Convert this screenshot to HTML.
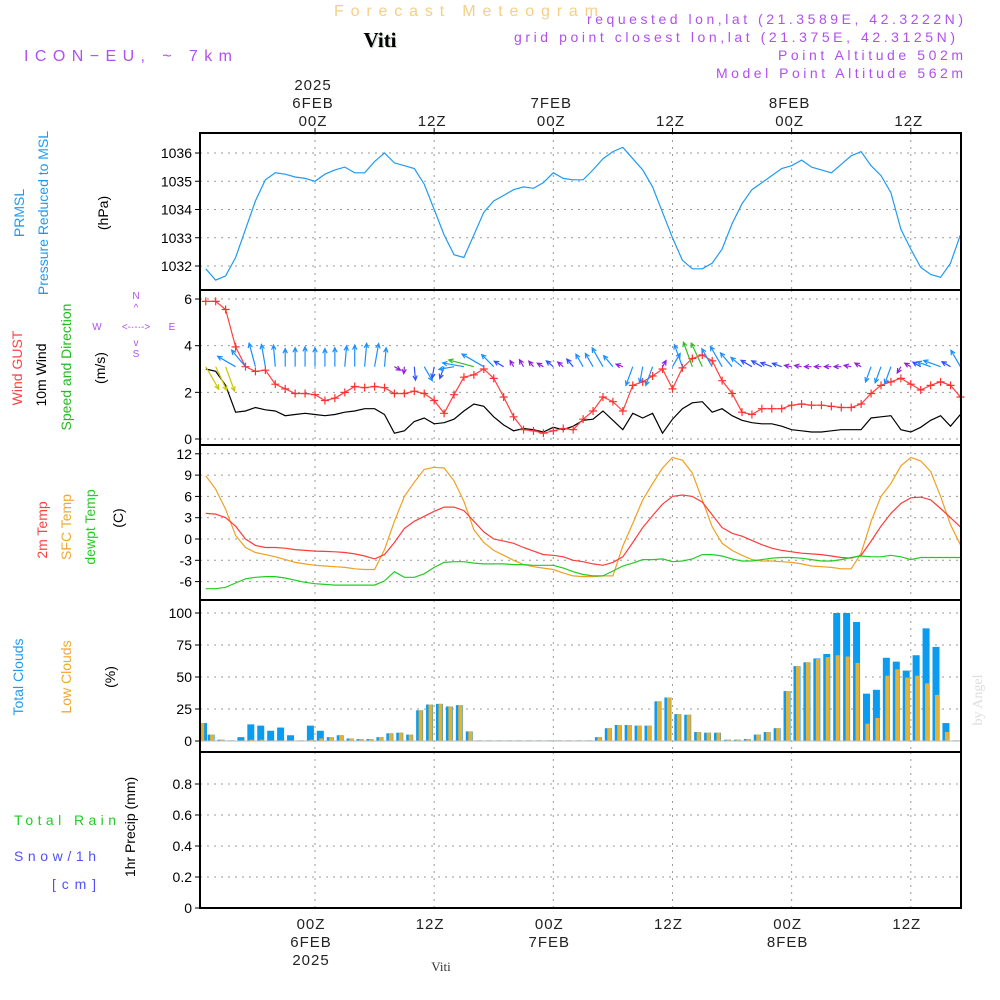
<!DOCTYPE html>
<html><head><meta charset="utf-8"><style>
html,body{margin:0;padding:0;background:#fff;}
svg{display:block;font-family:"Liberation Sans",sans-serif;}
</style></head><body>
<svg id="chart" width="1000" height="1000" viewBox="0 0 1000 1000">
<g>
<text x="334" y="16" textLength="264" lengthAdjust="spacing" font-size="16" fill="#f5cf85">Forecast Meteogram</text>
<text x="381" y="48" text-anchor="middle" font-size="21" font-weight="bold" font-family="Liberation Serif,serif" fill="#c8d8c8">Viti</text>
<text x="380" y="47" text-anchor="middle" font-size="21" font-weight="bold" font-family="Liberation Serif,serif" fill="#000">Viti</text>
<text x="24" y="61" textLength="208" lengthAdjust="spacing" font-size="16" fill="#b050f0">ICON−EU, ~ 7km</text>
<text x="587" y="24" textLength="376" lengthAdjust="spacing" font-size="14" fill="#b050f0">requested lon,lat (21.3589E, 42.3222N)</text>
<text x="514" y="42" textLength="441" lengthAdjust="spacing" font-size="14" fill="#b050f0">grid point closest lon,lat (21.375E, 42.3125N)</text>
<text x="778" y="60" textLength="185" lengthAdjust="spacing" font-size="14" fill="#b050f0">Point Altitude 502m</text>
<text x="716" y="78" textLength="247" lengthAdjust="spacing" font-size="14" fill="#b050f0">Model Point Altitude 562m</text>
</g>
<g id="labels" font-size="14">
<text transform="translate(24,213) rotate(-90)" text-anchor="middle" fill="#1e9bf0">PRMSL</text>
<text transform="translate(48,213) rotate(-90)" text-anchor="middle" fill="#1e9bf0">Pressure Reduced to MSL</text>
<text transform="translate(108,213) rotate(-90)" text-anchor="middle" fill="#000">(hPa)</text>
<text transform="translate(22,368) rotate(-90)" text-anchor="middle" fill="#ff4040">Wind GUST</text>
<text transform="translate(46,375) rotate(-90)" text-anchor="middle" fill="#000">10m Wind</text>
<text transform="translate(71,367) rotate(-90)" text-anchor="middle" fill="#22bb22">Speed and Direction</text>
<text transform="translate(105,368) rotate(-90)" text-anchor="middle" fill="#000">(m/s)</text>
<g font-size="10" fill="#b050f0">
<text x="136" y="299" text-anchor="middle">N</text><text x="136" y="311" text-anchor="middle">^</text>
<text x="136" y="330" text-anchor="middle">&lt;-·-·-&gt;</text>
<text x="97" y="330" text-anchor="middle">W</text><text x="172" y="330" text-anchor="middle">E</text>
<text x="136" y="346" text-anchor="middle">v</text><text x="136" y="357" text-anchor="middle">S</text>
</g>
<text transform="translate(47,530) rotate(-90)" text-anchor="middle" fill="#ff4040">2m Temp</text>
<text transform="translate(71,527) rotate(-90)" text-anchor="middle" fill="#f0a830">SFC Temp</text>
<text transform="translate(95,527) rotate(-90)" text-anchor="middle" fill="#22cc22">dewpt Temp</text>
<text transform="translate(123,518) rotate(-90)" text-anchor="middle" fill="#000">(C)</text>
<text transform="translate(23,677) rotate(-90)" text-anchor="middle" fill="#1e9bf0">Total Clouds</text>
<text transform="translate(71,677) rotate(-90)" text-anchor="middle" fill="#f0a830">Low Clouds</text>
<text transform="translate(115,677) rotate(-90)" text-anchor="middle" fill="#000">(%)</text>
<text x="14" y="825" textLength="102" lengthAdjust="spacing" fill="#22cc22">Total  Rain</text>
<text x="14" y="861" textLength="82" lengthAdjust="spacing" fill="#5050ff">Snow/1h</text>
<text x="52" y="889" textLength="44" lengthAdjust="spacing" fill="#5050ff">[cm]</text>
<text transform="translate(135,827) rotate(-90)" text-anchor="middle" fill="#000">1hr Precip (mm)</text>
<text transform="translate(982,700) rotate(-90)" text-anchor="middle" font-size="14" font-family="Liberation Serif,serif" fill="#dddddd">by Angel</text>
<text x="441" y="971" text-anchor="middle" font-size="13" font-family="Liberation Serif,serif" fill="#333">Viti</text>
</g>
<g id="plot"></g>
</svg>
<script>
const hours=[];for(let h=-11;h<=65;h++)hours.push(h);
const pressure=[1031.9,1031.5,1031.65,1032.3,1033.3,1034.3,1035.05,1035.3,1035.25,1035.15,1035.1,
1035.0,1035.25,1035.4,1035.5,1035.3,1035.3,1035.7,1036.0,1035.65,1035.55,1035.45,1034.9,
1034.0,1033.1,1032.4,1032.3,1033.1,1033.9,1034.3,1034.5,1034.7,1034.8,1034.75,1034.95,
1035.3,1035.1,1035.05,1035.05,1035.4,1035.8,1036.05,1036.2,1035.8,1035.4,1034.8,1033.9,
1033.0,1032.2,1031.9,1031.9,1032.1,1032.6,1033.5,1034.2,1034.7,1034.95,1035.2,1035.45,
1035.55,1035.75,1035.5,1035.4,1035.3,1035.6,1035.9,1036.05,1035.55,1035.2,1034.6,1033.3,
1032.6,1031.95,1031.7,1031.6,1032.1,1033.1];
const gust=[5.9,5.9,5.55,3.95,3.1,2.9,2.95,2.35,2.15,1.95,1.95,
1.9,1.65,1.75,2.0,2.25,2.2,2.25,2.2,1.95,1.95,2.05,1.95,
1.65,1.1,1.9,2.65,2.75,3.0,2.6,1.8,0.95,0.4,0.35,0.25,
0.35,0.45,0.4,0.85,1.2,1.8,1.6,1.2,2.3,2.45,2.7,3.0,
2.15,3.05,3.45,3.6,3.35,2.5,1.95,1.15,1.05,1.3,1.3,1.3,
1.45,1.5,1.45,1.45,1.4,1.35,1.35,1.5,1.95,2.3,2.45,2.6,
2.35,2.1,2.3,2.45,2.3,1.8];
const wind10=[3.0,2.9,2.3,1.15,1.2,1.35,1.25,1.2,1.0,1.05,1.1,
1.05,1.0,1.05,1.15,1.2,1.3,1.3,1.05,0.25,0.35,0.75,0.9,
0.65,0.7,0.85,1.2,1.5,1.4,0.95,0.6,0.35,0.45,0.4,0.3,
0.5,0.4,0.55,0.8,0.85,1.2,0.8,0.4,1.1,0.9,1.1,0.25,
0.85,1.3,1.55,1.6,1.15,1.3,1.0,0.8,0.7,0.65,0.65,0.55,
0.4,0.35,0.3,0.3,0.35,0.4,0.4,0.4,0.9,0.95,1.0,0.4,
0.3,0.5,0.8,1.0,0.55,1.05];
const windDir=[150,155,160,300,320,345,350,355,0,0,0,
0,0,0,5,0,5,10,5,120,185,175,150,
190,200,260,280,285,300,315,300,330,330,320,300,
310,310,320,330,330,330,320,290,200,190,200,30,
30,340,340,335,330,330,320,310,300,300,290,290,
280,280,270,270,270,270,280,300,200,200,200,210,
300,300,290,290,300,330];
const temp2m=[3.6,3.5,3.0,1.8,0.0,-0.9,-1.2,-1.2,-1.3,-1.5,-1.6,
-1.7,-1.75,-1.8,-1.9,-2.1,-2.4,-2.8,-2.2,-0.5,1.5,2.5,3.2,
3.9,4.5,4.5,4.0,2.5,1.0,0.0,-0.3,-0.6,-1.2,-1.7,-2.2,
-2.3,-2.5,-3.0,-3.2,-3.5,-3.7,-3.3,-2.5,-0.5,1.6,3.3,4.9,
6.0,6.2,6.0,5.2,3.4,1.6,0.8,0.4,-0.2,-0.8,-1.3,-1.6,
-1.8,-2.0,-2.1,-2.2,-2.4,-2.6,-2.7,-2.3,-0.3,1.8,3.6,5.0,
5.8,5.9,5.5,4.3,3.0,1.7];
const tempSfc=[8.9,7.0,4.2,0.5,-1.2,-1.9,-2.2,-2.5,-2.9,-3.3,-3.5,
-3.7,-3.8,-3.9,-4.0,-4.2,-4.3,-4.3,-1.5,2.5,6.0,8.0,9.8,
10.1,10.0,8.2,5.3,1.3,-0.5,-1.6,-2.3,-3.0,-3.6,-3.9,-4.1,
-4.3,-4.8,-5.2,-5.3,-5.3,-5.2,-5.2,-1.0,2.2,5.5,7.8,10.0,
11.5,11.1,9.3,5.5,1.7,-0.6,-1.6,-2.3,-2.9,-3.1,-3.1,-3.2,
-3.3,-3.5,-3.8,-3.9,-4.0,-4.2,-4.2,-2.0,2.5,6.0,7.8,10.3,
11.5,11.0,9.5,6.0,2.0,-0.8];
const dewpt=[-7.0,-7.0,-6.8,-6.2,-5.6,-5.4,-5.3,-5.3,-5.5,-5.8,-6.1,
-6.3,-6.4,-6.5,-6.5,-6.5,-6.5,-6.5,-5.9,-4.6,-5.4,-5.4,-4.9,
-4.0,-3.3,-3.2,-3.2,-3.4,-3.5,-3.5,-3.5,-3.6,-3.6,-3.7,-3.7,
-3.7,-4.1,-4.6,-5.0,-5.2,-5.2,-4.5,-3.8,-3.4,-2.9,-2.9,-2.8,
-3.2,-3.1,-2.8,-2.2,-2.2,-2.4,-2.8,-3.1,-3.1,-2.9,-2.7,-2.6,
-2.6,-2.7,-2.9,-3.1,-3.1,-2.9,-2.6,-2.4,-2.5,-2.5,-2.3,-2.5,
-2.9,-2.6,-2.6,-2.6,-2.6,-2.6];
const cloudTotal=[14,5,1,0.5,3,13,12,8,10.5,4.5,0.5,
12,8,3,4.5,2,1.5,1.5,3,6,6.5,5,24,
28.5,29,27,28,7.5,0.5,0.5,0.5,0.5,0.5,0.5,0.5,
0.5,0.5,0.5,0.5,0.5,3,10,12.5,12.5,12,12,31,
34,21,20.5,7,6.5,6.5,1,1,1.5,5,7,10,
39,58.5,61.5,64.5,68,100,100,93,37,40,65,62,
55,67,88,73.5,14,0.5];
const cloudLow=[14,5,1,0.5,0.5,1,1,0.5,0.5,0.5,0.5,
1,2,3,4.5,2,1.5,1.5,3,6,6.5,5,24,
28.5,29,27,28,7.5,0.5,0.5,0.5,0.5,0.5,0.5,0.5,
0.5,0.5,0.5,0.5,0.5,3,10,12.5,12.5,12,12,31,
34,21,20.5,7,6.5,6.5,1,1,1.5,5,7,10,
39,58.5,61.5,64,65.5,67,66,61,13.5,18,51,56,
49.5,51,45,36,7,0.5];
const precip=hours.map(()=>0);
const pTicks=[1032,1033,1034,1035,1036];
const wTicks=[0,2,4,6];
const tTicks=[-6,-3,0,3,6,9,12];
const cTicks=[0,25,50,75,100];
const rTicks=[0,0.2,0.4,0.6,0.8];
const timeTicks=[0,12,24,36,48,60];
const topLabels=[["2025","6FEB","00Z"],["","","12Z"],["","7FEB","00Z"],["","","12Z"],["","8FEB","00Z"],["","","12Z"]];
const botLabels=[["00Z","6FEB","2025"],["12Z","",""],["00Z","7FEB",""],["12Z","",""],["00Z","8FEB",""],["12Z","",""]];

const NS="http://www.w3.org/2000/svg";
const plot=document.getElementById('plot');
const L=200,R=961;
const X=h=>315+9.93*h;
const yP=v=>153+(1036-v)*28.25;
const yW=v=>439-v*23.33;
const yT=v=>539-v*7.1;
const yC=v=>741-v*1.28;
const yR=v=>908-v*155;
function mk(tag,attrs,parent){const e=document.createElementNS(NS,tag);for(const k in attrs)e.setAttribute(k,attrs[k]);(parent||plot).appendChild(e);return e;}
const panels=[{t:133,b:290,ticks:pTicks,y:yP,n:'pressure'},{t:290,b:445,ticks:wTicks,y:yW,n:'wind'},{t:445,b:600,ticks:tTicks,y:yT,n:'temperature'},{t:600,b:752,ticks:cTicks,y:yC,n:'clouds'},{t:752,b:908,ticks:rTicks,y:yR,n:'precip'}];
panels.forEach(p=>{
  const g=mk('g',{});
  
  
  timeTicks.forEach(h=>{const l=mk('line',{x1:X(h),x2:X(h),y1:p.t,y2:p.b,stroke:'#999','stroke-dasharray':'2,5','stroke-width':1},g);
    
    });
  p.ticks.forEach(v=>{const y=p.y(v);
    if(!(p.n==='precip'&&v===0)){const l=mk('line',{x1:L,x2:R,y1:y,y2:y,stroke:'#999','stroke-dasharray':'2,5','stroke-width':1},g);
      
      }
    mk('line',{x1:L-5,x2:L,y1:y,y2:y,stroke:'#000'},g);
    const t=mk('text',{x:L-8,y:y+5,'text-anchor':'end','font-size':14,fill:'#000'},g);
    t.textContent=String(v);
    
    });
});
function line(arr,yf,color,name,w){const pts=arr.map((v,i)=>X(hours[i]).toFixed(1)+','+yf(v).toFixed(1)).join(' ');
  const e=mk('polyline',{points:pts,fill:'none',stroke:color,'stroke-width':w||1.2});
  
  return e;}
line(pressure,yP,'#1e9bf0','pressure-line');
cloudTotal.forEach((v,i)=>{const c=X(hours[i])-4.6;
  const b=mk('rect',{x:Math.max(L,c-3.5),y:yC(v),width:7,height:yC(0)-yC(v),fill:'#0a9cf0'});
  
  
  const lv=cloudLow[i];
  const o=mk('rect',{x:Math.max(L,c-1),y:yC(lv),width:4,height:yC(0)-yC(lv),fill:'#e8b030'});
  
  });
mk('line',{x1:L,x2:R,y1:yC(0),y2:yC(0),stroke:'#bbb'});
const pl=line(precip,yR,'#000','precip-line',1.2);pl.setAttribute('stroke-dasharray','4,3');
line(tempSfc,yT,'#f0a020','sfc-temp-line');
line(temp2m,yT,'#ff3b3b','temp-2m-line');
line(dewpt,yT,'#22cc22','dewpt-line');
line(wind10,yW,'#000','wind-10m-line');
line(gust,yW,'#ff4040','gust-line');
gust.forEach((v,i)=>{const x=X(hours[i]),y=yW(v);
  const m=mk('path',{d:`M${x-4},${y}H${x+4}M${x},${y-4}V${y+4}`,stroke:'#ff3030','stroke-width':1.2});
  
  });
function arrowColor(s){if(s>=2.2)return '#c8c800';if(s>=1.5)return '#30c020';if(s>=0.8)return '#1a90ff';if(s>=0.5)return '#3050ff';return '#9020e0';}
windDir.forEach((d,i)=>{const s=wind10[i];const len=Math.min(26,Math.max(7,18*s));
  const x0=X(hours[i]),y0=yW(3.1);const a=d*Math.PI/180;
  const x1=x0+len*Math.sin(a),y1=y0-len*Math.cos(a);
  const hl=5,ha=0.45;
  const bx=-Math.sin(a),by=Math.cos(a);
  const h1x=x1+hl*(bx*Math.cos(ha)-by*Math.sin(ha)),h1y=y1+hl*(bx*Math.sin(ha)+by*Math.cos(ha));
  const h2x=x1+hl*(bx*Math.cos(-ha)-by*Math.sin(-ha)),h2y=y1+hl*(bx*Math.sin(-ha)+by*Math.cos(-ha));
  const p=mk('path',{d:`M${x0},${y0}L${x1},${y1}M${h1x},${h1y}L${x1},${y1}L${h2x},${h2y}`,stroke:arrowColor(s),'stroke-width':1.2,fill:'none'});
  
  });
panels.forEach(p=>{const r=mk('rect',{x:L,y:p.t,width:R-L,height:p.b-p.t,fill:'none',stroke:'#000','stroke-width':2});
  
  });
timeTicks.forEach((h,k)=>{const x=X(h);
  mk('line',{x1:x,x2:x,y1:128,y2:133,stroke:'#000'});
  topLabels[k].forEach((s,j)=>{if(!s)return;const t=mk('text',{x:x-2,y:90+j*18,'text-anchor':'middle','font-size':15,fill:'#222','letter-spacing':1});t.textContent=s;
    
    });
  botLabels[k].forEach((s,j)=>{if(!s)return;const t=mk('text',{x:x-4,y:929+j*18,'text-anchor':'middle','font-size':15,fill:'#222','letter-spacing':1});t.textContent=s;
    
    });
});
</script>
</body></html>
